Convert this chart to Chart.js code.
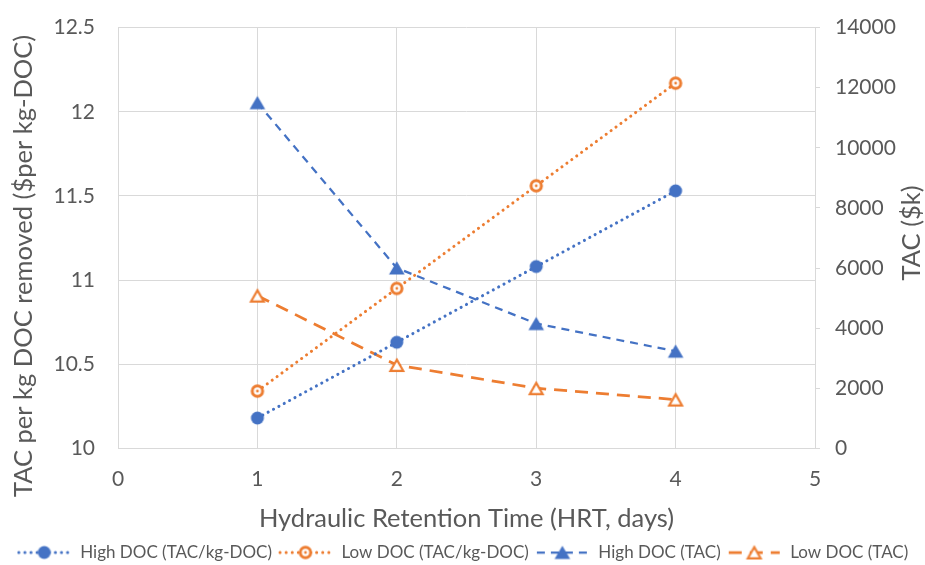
<!DOCTYPE html>
<html>
<head>
<meta charset="utf-8">
<script src="https://cdn.jsdelivr.net/npm/chart.js@4/dist/chart.umd.min.js"></script>
<style>
  body { margin: 0; background: #fff; }
  #wrap { width: 925px; height: 565px; }
</style>
</head>
<body>
<div id="wrap"><canvas id="tac-chart" width="925" height="565"></canvas></div>
<script>
// values
const hrtDays = [1, 2, 3, 4];
const highDocPerKg = [10.18, 10.63, 11.08, 11.53];
const lowDocPerKg = [10.34, 10.95, 11.56, 12.17];
const highDocTac = [11500, 6000, 4150, 3230];
const lowDocTac = [5080, 2770, 2000, 1620];
const seriesNames = ['High DOC (TAC/kg-DOC)', 'Low DOC (TAC/kg-DOC)', 'High DOC (TAC)', 'Low DOC (TAC)'];

const blue = '#4472C4';
const orange = '#ED7D31';
const textColor = '#595959';
const gridColor = '#D9D9D9';
const fontFamily = 'Lato, "Open Sans", sans-serif';

function makeMarker(kind, color) {
    const c = document.createElement('canvas');
    c.width = 20; c.height = 20;
    const g = c.getContext('2d');
    g.fillStyle = color;
    g.strokeStyle = color;
    if (kind === 'dot') {
        g.beginPath(); g.arc(10, 10, 6.5, 0, Math.PI * 2); g.fill();
    } else if (kind === 'ring') {
        g.beginPath(); g.arc(10, 10, 5.2, 0, Math.PI * 2);
        g.fillStyle = '#fff'; g.fill();
        g.lineWidth = 3; g.stroke();
        g.fillStyle = color;
        g.beginPath(); g.arc(10, 10, 1.4, 0, Math.PI * 2); g.fill();
    } else if (kind === 'tri') {
        g.beginPath(); g.moveTo(10, 3.2); g.lineTo(17.8, 16.6); g.lineTo(2.2, 16.6); g.closePath(); g.fill();
    } else if (kind === 'opentri') {
        g.beginPath(); g.moveTo(10, 4.6); g.lineTo(16.4, 15.8); g.lineTo(3.6, 15.8); g.closePath();
        g.fillStyle = '#fff'; g.fill();
        g.lineWidth = 2.2; g.lineJoin = 'miter'; g.stroke();
    }
    return c;
}

function makeLegendIcon(marker, color, dash, width) {
    const c = document.createElement('canvas');
    c.width = 55; c.height = 20;
    const g = c.getContext('2d');
    g.strokeStyle = color;
    g.lineWidth = width;
    g.lineCap = dash[0] < 1 ? 'round' : 'butt';
    g.setLineDash(dash);
    g.beginPath(); g.moveTo(2, 10); g.lineTo(53, 10); g.stroke();
    g.drawImage(marker, 17.5, 0);
    return c;
}

const markers = [
    makeMarker('dot', blue),
    makeMarker('ring', orange),
    makeMarker('tri', blue),
    makeMarker('opentri', orange)
];
const dashes = [[0.1, 6], [0.1, 6], [8, 6], [13, 8]];
const widths = [3, 3, 2.25, 2.75];
const colors = [blue, orange, blue, orange];
const legendIcons = markers.map((m, i) => makeLegendIcon(m, colors[i], dashes[i], widths[i]));

const seriesValues = [highDocPerKg, lowDocPerKg, highDocTac, lowDocTac];
const axisIds = ['y', 'y', 'y2', 'y2'];

const datasets = seriesValues.map((vals, i) => ({
    label: seriesNames[i],
    data: hrtDays.map((d, k) => ({ x: d, y: vals[k] })),
    yAxisID: axisIds[i],
    borderColor: colors[i],
    backgroundColor: colors[i],
    borderWidth: widths[i],
    borderDash: dashes[i],
    borderCapStyle: dashes[i][0] < 1 ? 'round' : 'butt',
    pointStyle: markers[i],
    pointRadius: 7,
    tension: 0,
    fill: false
}));

// both y titles read bottom-to-top, so draw them by hand
const sideTitles = {
    id: 'sideTitles',
    afterDraw(chart) {
        const ctx = chart.ctx;
        const put = (text, x, y) => {
            ctx.save();
            ctx.translate(x, y);
            ctx.rotate(-Math.PI / 2);
            ctx.font = '25.5px ' + fontFamily;
            ctx.fillStyle = textColor;
            ctx.textAlign = 'center';
            ctx.textBaseline = 'middle';
            ctx.fillText(text, 0, 0);
            ctx.restore();
        };
        put('TAC per kg DOC removed ($per kg-DOC)', 24, 266);
        put('TAC ($k)', 912, 233);
    }
};

// keep tick padding from pushing the plot area down
function trimPadding(scale) {
    scale.paddingTop = 10;
    scale.paddingBottom = 10;
}

const ctx = document.getElementById('tac-chart').getContext('2d');
new Chart(ctx, {
    type: 'line',
    data: { datasets: datasets },
    plugins: [sideTitles],
    options: {
        responsive: false,
        animation: false,
        layout: { padding: { top: 27.6, right: 0, bottom: -6, left: 0 } },
        plugins: {
            tooltip: { enabled: false },
            legend: {
                position: 'bottom',
                labels: {
                    usePointStyle: true,
                    pointStyleWidth: 55,
                    padding: 6,
                    color: textColor,
                    font: { family: fontFamily, size: 17 },
                    generateLabels(chart) {
                        const items = Chart.defaults.plugins.legend.labels.generateLabels(chart);
                        items.forEach((it, i) => { it.pointStyle = legendIcons[i]; });
                        return items;
                    }
                }
            }
        },
        scales: {
            x: {
                type: 'linear',
                min: 0,
                max: 5,
                afterFit(scale) { scale.height = 89.7; },
                grid: { color: gridColor, lineWidth: 1, drawTicks: false },
                border: { color: gridColor },
                ticks: {
                    stepSize: 1,
                    padding: 18,
                    color: textColor,
                    font: { family: fontFamily, size: 21 },
                    callback: (v) => String(v)
                },
                title: {
                    display: true,
                    text: 'Hydraulic Retention Time (HRT, days)',
                    color: textColor,
                    font: { family: fontFamily, size: 25.5 },
                    padding: { top: 0, bottom: 3.7 }
                }
            },
            y: {
                position: 'left',
                min: 10,
                max: 12.5,
                afterFit(scale) { scale.width = 118; trimPadding(scale); },
                grid: { color: gridColor, lineWidth: 1, drawTicks: false },
                border: { display: false },
                ticks: {
                    stepSize: 0.5,
                    padding: 23,
                    color: textColor,
                    font: { family: fontFamily, size: 21 },
                    callback: (v) => String(v)
                }
            },
            y2: {
                position: 'right',
                min: 0,
                max: 14000,
                afterFit(scale) { scale.width = 110; trimPadding(scale); },
                grid: { drawOnChartArea: false, color: gridColor, tickLength: 5 },
                border: { color: gridColor },
                ticks: {
                    stepSize: 2000,
                    padding: 15,
                    color: textColor,
                    font: { family: fontFamily, size: 21 },
                    callback: (v) => String(v)
                }
            }
        }
    }
});
</script>
</body>
</html>
